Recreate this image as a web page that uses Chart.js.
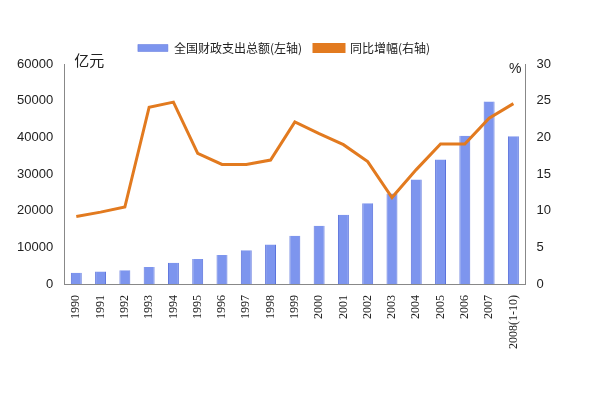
<!DOCTYPE html>
<html>
<head>
<meta charset="utf-8">
<script src="https://cdn.jsdelivr.net/npm/chart.js@4/dist/chart.umd.min.js"></script>
<style>
  body{margin:0;background:#fff;}
  #wrap{width:600px;height:400px;}
</style>
</head>
<body>
<div id="wrap"><canvas id="myChart" width="600" height="400"></canvas></div>
<script>
const years = ['1990','1991','1992','1993','1994','1995','1996','1997','1998','1999','2000','2001','2002','2003','2004','2005','2006','2007','2008(1-10)'];
const spending = [3084,3386,3742,4642,5793,6824,7938,9234,10798,13188,15887,18903,22053,24650,28487,33930,40423,49781,40300];
const growth = [9.2,9.8,10.5,24.1,24.8,17.8,16.3,16.3,16.9,22.1,20.5,19.0,16.7,11.8,15.6,19.1,19.1,22.6,24.6];
const leftTicks = [0,10000,20000,30000,40000,50000,60000];

const unitLabels = {
    id: 'unitLabels',
    afterDraw(chart){
        const ctx = chart.ctx;
        ctx.save();
        ctx.fillStyle = '#222';
        ctx.font = '15px "Noto Sans CJK SC"';
        ctx.textBaseline = 'bottom';
        ctx.textAlign = 'left';
        ctx.fillText('亿元', chart.scales.y.right + 10, chart.chartArea.top + 4);
        ctx.font = '14px "Liberation Sans"';
        ctx.textAlign = 'right';
        ctx.fillText('%', chart.scales.y1.left - 4, chart.chartArea.top + 12);
        ctx.restore();
    }
};

const c = document.getElementById('myChart').getContext('2d');

new Chart(c, {
    type: 'bar',
    data: {
        labels: years,
        datasets: [{
            label: '全国财政支出总额(左轴)',
            data: spending,
            yAxisID: 'y',
            backgroundColor: '#7d95ee',
            borderColor: '#5a72dc',
            borderWidth: { left: 1, right: 1, top: 0, bottom: 0 },
            barPercentage: 0.45,
            categoryPercentage: 1,
            order: 1
        },{
            type: 'line',
            label: '同比增幅(右轴)',
            data: growth,
            yAxisID: 'y1',
            borderColor: '#e27a1f',
            backgroundColor: '#e27a1f',
            borderWidth: 3,
            pointRadius: 0,
            pointStyle: 'line',
            tension: 0,
            order: 0
        }]
    },
    options: {
        responsive: false,
        animation: false,
        layout: { padding: { left: 14, right: 46, top: 30, bottom: 48 } },
        plugins: {
            legend: {
                position: 'top',
                align: 'center',
                labels: {
                    boxWidth: 30, boxHeight: 7, color: '#222',
                    font: { size: 12, family: '"Noto Sans CJK SC"' },
                    padding: 12,
                    sort: (a, b) => a.datasetIndex - b.datasetIndex
                }
            },
            tooltip: { enabled: false }
        },
        scales: {
            x: {
                grid: { display: false },
                border: { color: '#888' },
                ticks: { minRotation: 90, maxRotation: 90, color: '#222', font: { size: 12, family: '"Liberation Serif"' } }
            },
            y: {
                position: 'left',
                min: 0, max: 60000,
                afterBuildTicks: (s) => { s.ticks = leftTicks.map(v => ({ value: v })); },
                grid: { display: false },
                border: { color: '#888' },
                ticks: { color: '#222', font: { size: 13, family: '"Liberation Sans"' }, callback: (v) => String(v) }
            },
            y1: {
                position: 'right',
                min: 0, max: 30,
                ticks: { stepSize: 5, color: '#222', font: { size: 13, family: '"Liberation Sans"' } },
                grid: { display: false },
                border: { color: '#888' }
            }
        }
    },
    plugins: [unitLabels]
});
</script>
</body>
</html>
